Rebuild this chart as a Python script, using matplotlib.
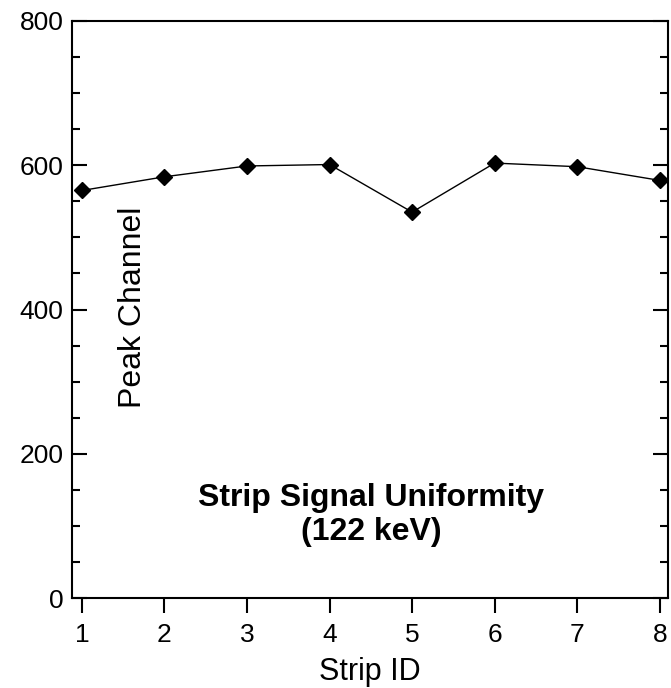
import matplotlib
matplotlib.use("Agg")
import matplotlib.pyplot as plt
from matplotlib.ticker import MultipleLocator

plt.rcParams['font.family'] = ['Liberation Sans', 'DejaVu Sans']

# Data
strip_id = [1, 2, 3, 4, 5, 6, 7, 8]
peak_channel = [565, 584, 599, 601, 535, 603, 598, 579]

fig = plt.figure(figsize=(6.71, 6.88), dpi=100)
ax = fig.add_axes([72 / 671, 1 - 598 / 688, (668 - 72) / 671, (598 - 21) / 688])

ax.plot(strip_id, peak_channel, color='black', linewidth=1,
        marker='D', markersize=8.5, markerfacecolor='black')

ax.set_xlim(0.88, 8.1)
ax.set_ylim(0, 800)
ax.set_xticks(strip_id)
ax.yaxis.set_major_locator(MultipleLocator(200))
ax.yaxis.set_minor_locator(MultipleLocator(50))

for s in ax.spines.values():
    s.set_linewidth(1.5)

ax.tick_params(axis='y', which='major', direction='in', length=11, width=1.5,
               right=True, labelsize=19, pad=6)
ax.tick_params(axis='y', which='minor', direction='in', length=6, width=1.5,
               right=True)
ax.tick_params(axis='x', which='major', direction='out', length=11, width=1.5,
               labelsize=19, pad=7)

ax.set_xlabel('Strip ID', fontsize=22, labelpad=7)
ax.text(133 / 671, 1 - 307 / 688, 'Peak Channel', transform=fig.transFigure,
        rotation=90, ha='center', va='center', fontsize=23)
ax.text(371 / 671, 1 - 515 / 688, 'Strip Signal Uniformity\n(122 keV)',
        transform=fig.transFigure, ha='center', va='center', fontsize=23,
        fontweight='bold', linespacing=1.15)

fig.savefig('out.png', dpi=100)
